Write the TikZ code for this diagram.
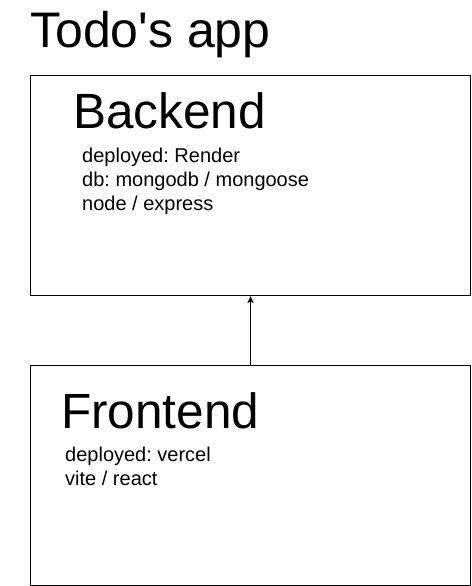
\documentclass[tikz,border=0pt]{standalone}
\usepackage{fontspec}
\setmainfont{Liberation Sans}
\newfontfamily\plainfont{Liberation Sans}
\usetikzlibrary{arrows.meta}
\frenchspacing
\begin{document}
\begin{tikzpicture}[x=1pt,y=-1pt,
  box/.style={draw=black,line width=1pt,rectangle,minimum width=440pt,minimum height=220pt,inner sep=0pt},
  bigtitle/.style={anchor=base west,inner sep=0pt,font=\plainfont\fontsize{50}{58}\selectfont},
  heading/.style={anchor=base west,inner sep=0pt,font=\fontsize{49.5}{56}\selectfont},
  info/.style={anchor=base west,inner sep=0pt,align=left,font=\fontsize{20}{24}\selectfont\frenchspacing},
  link/.style={draw=black,line width=1pt,-{Stealth[length=7pt,width=6pt,inset=1.5pt]}}]
\useasboundingbox (0,0) rectangle (471,586);
\node[bigtitle] (title) at (30,48) {Todo's app};
\node[box] (be) at (250.5,185.5) {};
\node[box] (fe) at (250.5,475.5) {};
\node[heading] (beh) at (73,128) {Backend};
\node[info] (bei) at (82,210) {deployed: Render\\db: mongodb / mongoose\\node / express};
\node[heading] (feh) at (61,428) {Frontend};
\node[info] (fei) at (65,485) {deployed: vercel\\vite / react};
\draw[link] (fe.north) -- (be.south);
\end{tikzpicture}
\end{document}
